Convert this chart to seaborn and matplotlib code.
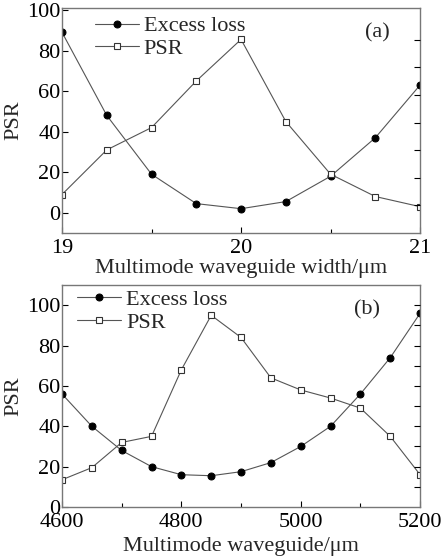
import numpy as np
import matplotlib
matplotlib.use("Agg")
import matplotlib.pyplot as plt
import seaborn as sns
from matplotlib.ticker import MultipleLocator

sns.set_style("ticks")
plt.rcParams['font.family'] = ['Liberation Serif', 'DejaVu Serif']

# panel (a)
width_a = [19.0, 19.25, 19.5, 19.75, 20.0, 20.25, 20.5, 20.75, 21.0]
loss_a = [89, 48, 19, 4.5, 2, 5.5, 18, 37, 63]
psr_a = [9, 31, 42, 65, 85.5, 45, 19, 8, 3]

# panel (b)
width_b = [4600, 4650, 4700, 4750, 4800, 4850, 4900, 4950, 5000, 5050, 5100, 5150, 5200]
loss_b = [56, 40, 28, 20, 16, 15.5, 17.5, 22, 30, 40, 56, 74, 96]
psr_b = [13.5, 19.5, 32, 35, 68, 95, 84, 64, 58, 54, 49, 35, 16]

fig = plt.figure(figsize=(4.41, 5.58), dpi=100)
ax1 = fig.add_axes([0.1406, 0.5824, 0.812, 0.4033])
ax2 = fig.add_axes([0.1406, 0.0914, 0.812, 0.3978])

fs = 16
line_c = '#555555'
spine_c = '#777777'

def draw(ax, x, loss, psr, anchor):
    sns.lineplot(x=x, y=loss, ax=ax, color=line_c, lw=0.8, marker='o',
                 markersize=5, markerfacecolor='black', markeredgecolor='black',
                 label='Excess loss')
    sns.lineplot(x=x, y=psr, ax=ax, color=line_c, lw=0.8, marker='s',
                 markersize=4.5, markerfacecolor='white', markeredgecolor='#333333',
                 markeredgewidth=0.8, label='PSR')
    for s in ax.spines.values():
        s.set_color(spine_c)
        s.set_linewidth(1.0)
    ax.tick_params(direction='in', which='both', right=False, top=False,
                   labelsize=fs, colors='black', length=4, width=0.8)
    ax.tick_params(axis='x', pad=4)
    ax.tick_params(axis='y', pad=1)
    ax.tick_params(which='minor', left=False, right=False, length=3)
    ax.set_ylabel('PSR', fontsize=fs, labelpad=3)
    ax.legend(loc='upper left', frameon=False, fontsize=fs, handlelength=2.0,
              handletextpad=0.2, labelspacing=0.1, borderaxespad=0, borderpad=0,
              bbox_to_anchor=anchor)

def right_ticks(ax, lim, ticks):
    r = ax.twinx()
    r.set_ylim(*lim)
    r.set_yticks(ticks)
    r.tick_params(direction='in', length=4, width=0.8, labelright=False, colors='black')
    r.grid(False)
    for s in r.spines.values():
        s.set_visible(False)
    return r

draw(ax1, width_a, loss_a, psr_a, (0.092, 0.965))
ax1.set_xlim(19, 21)
ax1.set_ylim(-10, 101)
ax1.xaxis.set_major_locator(MultipleLocator(1))
ax1.xaxis.set_minor_locator(MultipleLocator(0.5))
ax1.set_yticks([0, 20, 40, 60, 80, 100])
ax1.set_xlabel('Multimode waveguide width/\u03bcm', fontsize=fs, labelpad=1)
ax1.text(0.916, 0.889, '(a)', transform=ax1.transAxes, fontsize=fs, ha='right', va='center')
right_ticks(ax1, (0, 8.15), [1, 2, 3, 4, 5, 6, 7])

draw(ax2, width_b, loss_b, psr_b, (0.042, 0.98))
ax2.set_xlim(4600, 5200)
ax2.set_ylim(0, 110)
ax2.xaxis.set_major_locator(MultipleLocator(200))
ax2.xaxis.set_minor_locator(MultipleLocator(100))
ax2.set_yticks([0, 20, 40, 60, 80, 100])
ax2.set_xlabel('Multimode waveguide/\u03bcm', fontsize=fs, labelpad=4)
ax2.text(0.888, 0.886, '(b)', transform=ax2.transAxes, fontsize=fs, ha='right', va='center')
right_ticks(ax2, (0, 110), list(range(10, 101, 10)))

fig.savefig('out.png', dpi=100)
